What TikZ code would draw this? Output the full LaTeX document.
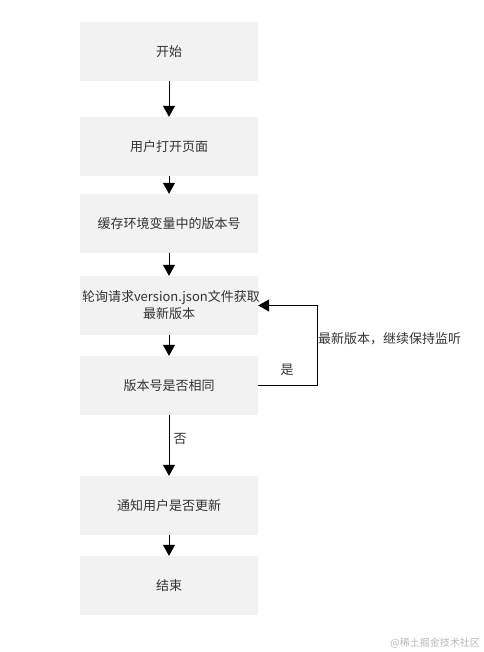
\documentclass[tikz,border=0pt]{standalone}
\usepackage{fontspec}
\setmainfont{Noto Sans CJK SC}
\usetikzlibrary{arrows.meta}
\definecolor{boxgray}{HTML}{F2F2F2}
\definecolor{textgray}{HTML}{333333}
\definecolor{markgray}{HTML}{B8B8B8}

\tikzset{
    stepbox/.style={fill=boxgray, minimum width=178pt, minimum height=59pt, text width=174pt,
        align=center, inner sep=0pt, text=textgray, font=\fontsize{13pt}{17pt}\selectfont},
    flow/.style={-{Triangle[width=12pt,length=11pt]}, line width=1pt},
    edgetext/.style={text=textgray, font=\fontsize{13pt}{16pt}\selectfont, inner sep=0pt}
}

\begin{document}
\begin{tikzpicture}
    \useasboundingbox (0,0) rectangle (483pt,-652pt);
    \node [stepbox] (start) at (169pt,-51.5pt) {开始};
    \node [stepbox] (open) at (169pt,-146.5pt) {用户打开页面};
    \node [stepbox] (cache) at (169pt,-223.5pt) {缓存环境变量中的版本号};
    \node [stepbox] (poll) at (169pt,-305.5pt) {轮询请求version.json文件获取\\最新版本};
    \node [stepbox] (compare) at (169pt,-385.5pt) {版本号是否相同};
    \node [stepbox] (notify) at (169pt,-505.5pt) {通知用户是否更新};
    \node [stepbox] (finish) at (169pt,-585.5pt) {结束};
    \draw [flow] (start) -- (open);
    \draw [flow] (open) -- (cache);
    \draw [flow] (cache) -- (poll);
    \draw [flow] (poll) -- (compare);
    \draw [flow] (compare) -- (notify);
    \draw [flow] (notify) -- (finish);
    \coordinate (turn) at (317pt,-385.5pt);
    \draw [flow] (compare.east) -- (turn) |- (poll.east);
    \node [edgetext, anchor=west] (keep) at (318pt,-339pt) {最新版本，继续保持监听};
    \node [edgetext] (yes) at (287pt,-370pt) {是};
    \node [edgetext] (no) at (180pt,-439pt) {否};
    \node [text=markgray, font=\fontsize{10pt}{12pt}\selectfont, anchor=east, inner sep=0pt] (mark) at (480pt,-643pt) {@稀土掘金技术社区};
\end{tikzpicture}
\end{document}
